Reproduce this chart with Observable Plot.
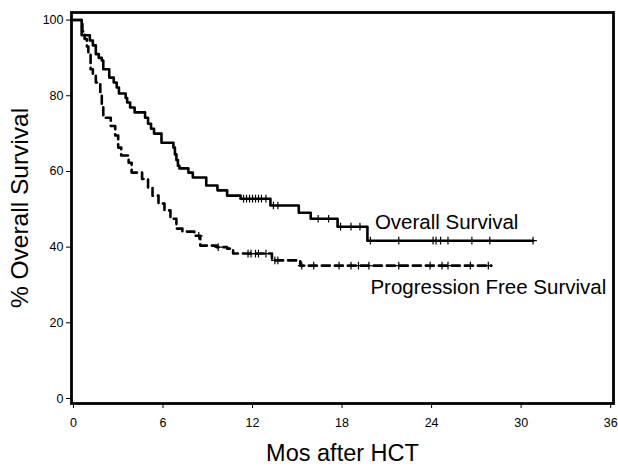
<!DOCTYPE html>
<html><head><meta charset="utf-8">
<script src="https://cdn.jsdelivr.net/npm/d3@7"></script>
<script src="https://cdn.jsdelivr.net/npm/@observablehq/plot@0.6"></script>
<style>body{margin:0;background:#fff} svg{font-family:"Liberation Sans",Arial,sans-serif}</style>
</head><body><div id="chart"></div>
<script>
// Overall survival (Kaplan-Meier steps)
const osMonths = [0,0.55,1.1,1.3,1.5,1.7,1.9,2.0,2.4,2.7,2.9,3.05,3.5,3.6,3.8,4.1,4.8,5.0,5.2,5.4,5.9,6.7,6.8,6.9,7.0,7.1,7.7,8.0,8.9,9.65,10.3,11.2,13.2,15.1,15.9,17.7,19.7,30.8];
const osPct    = [100,96,94.6,93.3,91,90,89.3,87,84.8,83.5,82.2,80.6,79.4,78.2,76.9,75.6,74.2,72.6,71.3,70,67.6,66.3,64.5,63,61.5,60.8,59.7,58.4,56.3,55,53.6,52.8,51,49.1,47.5,45.4,41.7,41.7];
const osCensor = [11.4,11.6,11.8,12.0,12.2,12.4,12.6,12.9,13.4,13.7,16.4,17.1,17.9,18.6,19.2,19.9,21.8,24.1,24.3,24.6,25.1,26.7,27.9,30.8];

// Progression free survival
const pfsMonths = [0,0.6,0.75,0.9,1.0,1.15,1.3,1.5,1.8,1.9,2.0,2.5,2.8,3.0,3.2,3.7,3.9,4.6,5.0,5.3,5.7,6.1,6.5,6.9,7.3,8.1,8.5,9.6,10.3,10.7,13.3,15.2,28.0];
const pfsPct    = [100,97,95,93,91,87,85.3,83.5,81,77.5,74.2,72,69.5,66.3,64.2,62.3,59.7,58,55.7,53.6,51.5,49.7,47.5,44.9,44.1,43,40.4,40,39.6,38.3,36.5,35.1,35.1];
const pfsCensor = [8.4,9.7,11.7,11.9,12.2,12.4,12.9,13.5,13.7,15.3,16.1,17.8,18.6,19.1,19.8,21.8,23.9,24.7,25.1,26.6,27.8];

const xTicks = [0,6,12,18,24,30,36];
const yTicks = [0,20,40,60,80,100];
const seriesNames = ["Overall Survival","Progression Free Survival"];
const nameX = [20.2, 19.9];
const nameY = [44.9, 27.7];

const stepAt = (ms, vs, t) => { let v = vs[0]; for (let i = 0; i < ms.length; i++) if (ms[i] <= t) v = vs[i]; return v; };
const os = osMonths.map((m,i) => ({m, v: osPct[i]}));
const pfs = pfsMonths.map((m,i) => ({m, v: pfsPct[i]}));
const osC = osCensor.map(m => ({m, v: stepAt(osMonths, osPct, m)}));
const pfsC = pfsCensor.map(m => ({m, v: stepAt(pfsMonths, pfsPct, m)}));
const names = seriesNames.map((t,i) => ({t, x: nameX[i], y: nameY[i]}));

const chart = Plot.plot({
  width: 618, height: 466,
  marginLeft: 71, marginRight: 5, marginTop: 12, marginBottom: 63,
  style: {fontFamily: '"Liberation Sans", Arial, sans-serif', fontSize: "12px", background: "white", color: "black"},
  x: {domain: [-0.13, 36.19]},
  y: {domain: [-1.32, 102]},
  marks: [
    Plot.axisX({ticks: xTicks, tickSize: 5, tickPadding: 10, fontSize: 12.5, label: null}),
    Plot.axisY({ticks: yTicks, tickSize: 5, tickPadding: 3, fontSize: 12.5, label: null}),
    Plot.line(pfs, {x: "m", y: "v", curve: "step-after", stroke: "black", strokeWidth: 2.6, strokeDasharray: "8,5"}),
    Plot.line(os, {x: "m", y: "v", curve: "step-after", stroke: "black", strokeWidth: 2.6}),
    Plot.dot(osC, {x: "m", y: "v", symbol: "plus", r: 2.6, stroke: "black", strokeWidth: 1.2}),
    Plot.dot(pfsC, {x: "m", y: "v", symbol: "plus", r: 2.6, stroke: "black", strokeWidth: 1.2}),
    Plot.text(names, {x: "x", y: "y", text: "t", textAnchor: "start", lineAnchor: "bottom", fontSize: 20.5}),
    Plot.frame({stroke: "black", strokeWidth: 2.8}),
    Plot.text(["% Overall Survival"], {frameAnchor: "left", textAnchor: "middle", lineAnchor: "middle", dx: -51, rotate: -90, fontSize: 24.5, text: d => d}),
    Plot.text(["Mos after HCT"], {frameAnchor: "bottom", textAnchor: "middle", lineAnchor: "middle", dy: 50, fontSize: 23.5, text: d => d})
  ]
});
document.getElementById("chart").append(chart);
</script>
</body></html>
